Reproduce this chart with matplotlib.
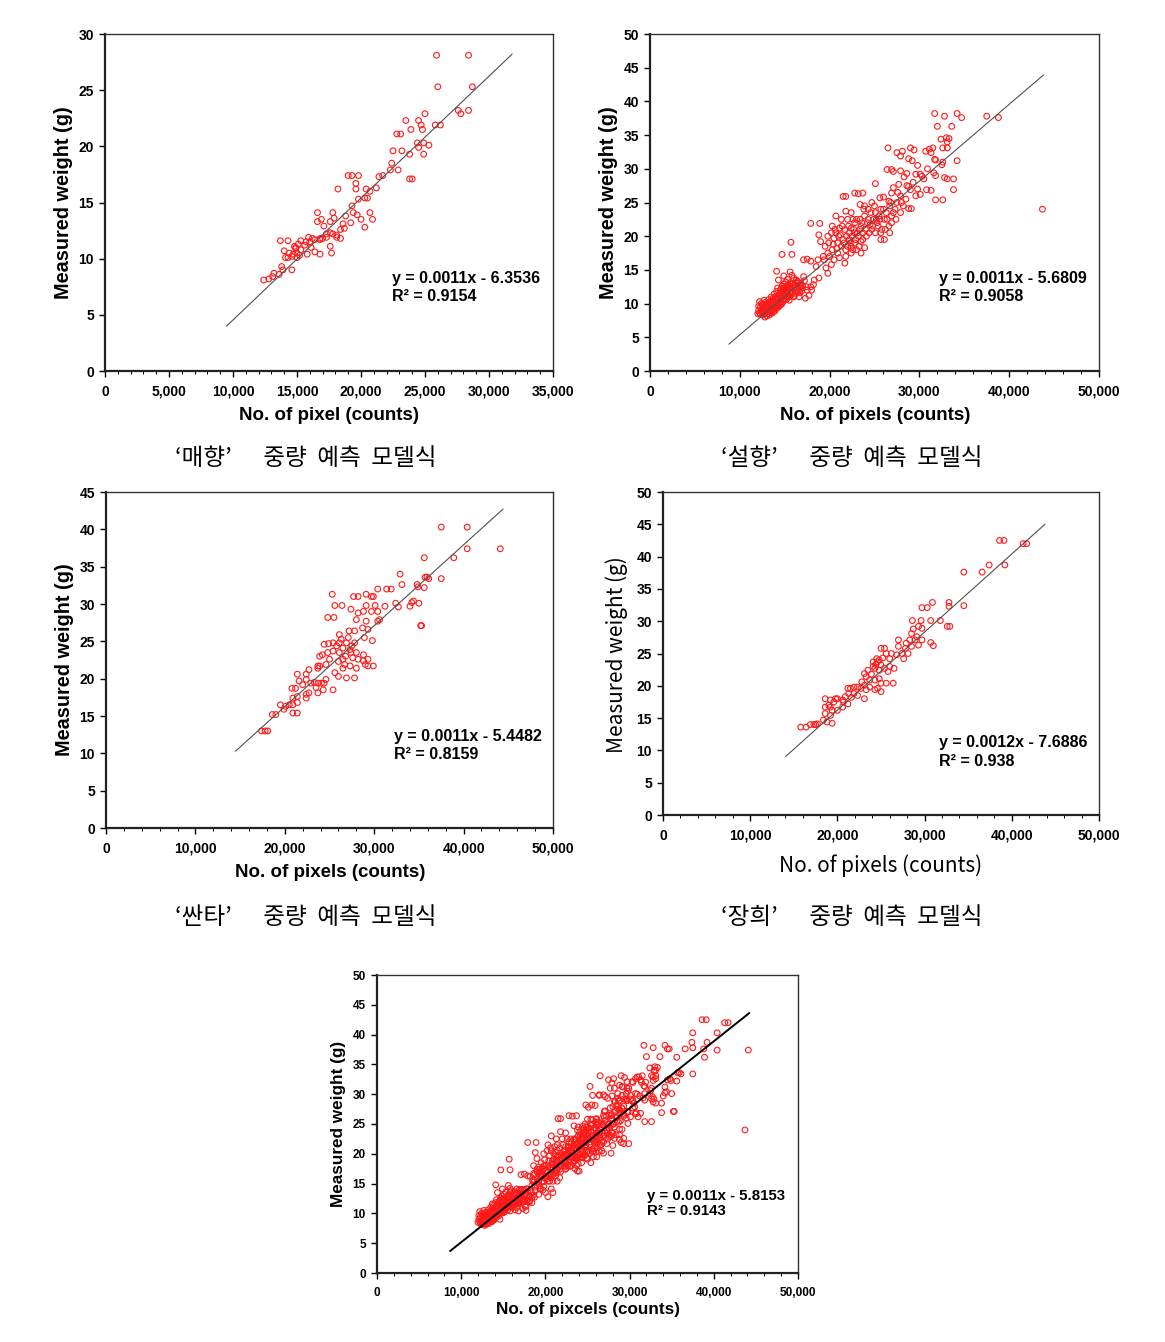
import numpy as np
import matplotlib
matplotlib.use("Agg")
import matplotlib.pyplot as plt
from matplotlib.ticker import FuncFormatter, MultipleLocator

plt.rcParams["font.family"] = ["Liberation Sans", "DejaVu Sans"]
KR = ["Noto Sans CJK KR", "DejaVu Sans"]

W, H = 1165, 1342

# points: (pixel count in thousands, weight g)
MAEHYANG = [
    (25.9, 28.1), (28.4, 28.1), (26.0, 25.3), (28.7, 25.3), (27.6, 23.2), (28.4, 23.2), (27.8, 22.9),
    (25.0, 22.9), (25.8, 21.9), (26.2, 21.9), (23.5, 22.3), (24.5, 22.3), (24.7, 21.9), (23.9, 21.5),
    (24.8, 21.5), (22.8, 21.1), (23.1, 21.1), (24.4, 20.3), (24.5, 19.9), (24.9, 20.3), (25.3, 20.1),
    (24.9, 19.3), (23.8, 19.3), (23.2, 19.6), (22.5, 19.6), (24.0, 17.1), (23.8, 17.1), (22.9, 17.9),
    (22.3, 17.9), (22.4, 18.5), (21.4, 17.3), (21.7, 17.4), (21.2, 16.3), (20.7, 16.0), (20.5, 15.4),
    (20.3, 15.4), (19.8, 15.3), (19.3, 14.7), (20.4, 16.2), (19.8, 17.4), (19.3, 17.4), (19.0, 17.4),
    (19.6, 16.7), (19.6, 16.2), (18.2, 16.2), (19.4, 14.1), (19.7, 13.9), (20.7, 14.1), (20.9, 13.5),
    (20.0, 13.5), (20.3, 12.8), (19.2, 13.2), (18.8, 13.8), (18.6, 13.1), (18.7, 12.7), (18.4, 12.6),
    (17.8, 14.1), (17.6, 13.3), (17.9, 13.6), (17.1, 12.9), (16.6, 14.1), (16.6, 13.3), (16.9, 13.5),
    (17.6, 12.3), (18.1, 11.9), (18.4, 11.8), (17.3, 11.9), (16.8, 11.8), (16.4, 11.7), (16.0, 11.5),
    (15.7, 11.5), (15.9, 11.9), (15.3, 11.6), (16.1, 11.0), (15.6, 11.2), (15.3, 10.8), (14.7, 10.4),
    (15.2, 10.3), (14.3, 10.1), (14.4, 10.5), (14.9, 11.0), (14.8, 11.1), (14.3, 11.6), (13.7, 11.6),
    (14.0, 10.7), (14.1, 10.1), (15.0, 10.1), (15.8, 10.4), (16.4, 10.6), (16.8, 10.4), (17.7, 10.5),
    (17.6, 11.1), (13.8, 9.3), (13.9, 9.0), (14.6, 9.0), (13.6, 8.6), (13.2, 8.7), (13.1, 8.4),
    (12.8, 8.2), (12.4, 8.1), (14.6, 10.2), (15.0, 10.5), (14.9, 10.9), (15.1, 11.3), (16.2, 11.8),
    (17.0, 11.8), (17.3, 12.2), (17.8, 12.2), (18.1, 12.1), (16.8, 11.7),
]

SEOLHYANG = [
    (31.7, 38.2), (32.8, 37.8), (34.2, 38.2), (34.7, 37.6), (37.5, 37.8), (38.8, 37.6), (32.0, 36.3),
    (33.6, 36.3), (34.2, 31.2), (33.8, 26.9), (43.7, 24.0),
    (32.4, 34.4), (33.0, 34.6), (33.3, 34.5), (33.1, 34.0), (32.6, 33.1), (33.1, 33.1), (31.1, 32.9),
    (31.5, 33.1), (31.3, 32.4), (30.7, 32.6), (31.7, 31.4), (31.8, 31.3), (32.6, 31.0), (32.5, 30.6),
    (31.6, 29.4), (31.8, 29.0), (32.8, 28.7), (33.1, 28.5), (33.8, 28.5), (31.3, 26.8), (30.8, 26.9),
    (31.8, 25.4), (32.6, 25.4), (30.1, 29.2), (30.3, 28.9), (29.6, 29.2), (28.6, 29.3), (29.2, 31.2),
    (29.4, 32.8), (29.0, 33.1), (28.1, 32.6), (27.9, 31.9), (27.5, 32.4), (28.8, 31.5), (26.5, 33.1),
    (26.9, 29.9), (26.4, 29.9), (27.1, 29.6), (27.9, 29.7), (28.8, 27.4), (29.0, 26.9), (29.6, 26.0),
    (30.1, 26.2), (28.8, 24.1), (29.1, 24.1), (28.0, 25.0), (27.7, 27.7), (25.1, 27.8),
    (21.5, 25.9), (21.8, 25.9), (22.8, 26.4), (23.7, 26.4), (23.2, 26.3), (20.7, 23.0), (21.8, 23.7),
    (23.4, 24.7), (23.9, 24.5), (24.7, 25.0), (25.6, 25.7), (26.0, 25.8), (26.6, 25.2), (26.9, 26.4),
    (27.1, 27.2),
    (18.8, 20.2), (19.0, 19.2), (19.8, 20.0), (20.2, 20.5), (20.5, 19.7), (20.9, 19.0), (21.2, 20.2),
    (21.5, 19.5), (21.7, 21.0), (22.2, 20.5), (22.4, 21.2), (22.8, 22.0), (23.4, 22.5), (23.5, 21.5),
    (23.9, 23.0), (24.3, 22.5), (24.5, 21.7), (24.9, 22.5), (25.1, 23.5), (25.4, 21.5), (25.7, 20.5),
    (26.1, 22.5), (26.6, 21.5), (26.9, 23.0), (27.3, 24.0), (26.7, 20.5), (25.7, 19.5), (25.1, 20.5),
    (24.1, 20.0), (23.5, 19.2), (23.0, 18.0), (22.4, 17.5), (21.8, 17.0), (21.7, 16.0), (20.9, 17.5),
    (20.3, 18.0), (19.8, 17.5), (19.4, 16.5), (20.2, 15.8), (20.5, 16.5), (22.4, 18.5), (23.2, 20.0),
    (23.7, 20.5), (22.8, 20.5), (22.2, 19.5), (24.7, 21.0), (25.2, 22.5), (24.3, 24.0), (22.6, 22.5),
    (22.4, 23.5), (22.0, 22.5), (21.3, 22.5), (21.1, 21.2), (20.3, 21.5), (20.7, 20.5), (21.3, 18.5),
    (21.8, 18.0), (22.8, 19.0), (23.5, 17.5), (23.9, 18.3), (25.7, 24.0), (26.3, 23.5), (26.7, 24.5),
    (26.9, 22.0), (27.5, 25.0), (27.9, 26.0), (27.9, 23.5), (26.1, 19.5), (25.6, 22.5),
    (19.5, 18.5), (19.9, 19.0), (20.0, 17.0), (20.4, 18.8), (20.6, 21.0), (20.8, 18.2), (21.0, 20.0),
    (21.1, 16.8), (21.4, 21.5), (21.6, 19.0), (21.9, 20.0), (22.0, 18.5), (22.1, 21.5), (22.3, 19.0),
    (22.5, 20.0), (22.6, 18.0), (22.7, 21.0), (22.9, 19.5), (23.0, 22.5), (23.1, 20.5), (23.3, 18.5),
    (23.4, 21.0), (23.6, 22.0), (23.7, 19.5), (23.8, 24.0), (24.0, 21.0), (24.2, 22.0), (24.4, 20.5),
    (24.6, 23.5), (24.8, 21.5), (25.0, 24.5), (25.3, 22.0), (25.5, 23.0), (25.8, 21.0), (26.0, 24.0),
    (26.2, 21.0), (26.4, 22.5), (26.8, 25.0), (27.1, 23.5), (27.4, 22.5), (27.6, 26.5), (28.2, 24.5),
    (28.5, 25.5), (28.6, 27.5), (29.3, 28.0), (29.8, 27.0), (30.5, 28.5), (30.9, 30.0), (29.8, 30.5),
    (28.3, 28.8),
    (17.9, 21.9), (18.9, 21.9), (15.8, 17.3), (14.7, 17.3), (15.7, 19.1), (17.5, 16.6), (17.1, 16.5),
    (17.9, 16.3), (18.5, 15.5), (18.7, 16.5), (19.3, 17.0), (19.6, 15.3), (19.8, 14.5), (18.8, 13.8),
    (18.3, 13.5), (17.9, 12.5), (17.4, 12.5), (17.1, 14.0), (16.4, 13.0), (16.9, 12.3), (17.3, 10.8),
    (16.7, 11.6), (14.1, 14.8), (15.6, 14.7), (14.9, 14.1), (14.3, 13.5),
    (12.0, 8.5), (12.1, 9.0), (12.2, 10.3), (12.3, 9.5), (12.4, 8.8), (12.5, 9.8), (12.6, 8.3),
    (12.6, 9.2), (12.7, 10.5), (12.8, 8.0), (12.8, 9.6), (12.9, 8.7), (13.0, 9.2), (13.0, 10.0),
    (13.1, 8.5), (13.1, 9.8), (13.2, 9.0), (13.2, 10.6), (13.3, 8.3), (13.3, 9.5), (13.4, 8.8),
    (13.4, 10.2), (13.5, 9.2), (13.5, 11.0), (13.6, 9.8), (13.6, 8.6), (13.7, 10.4), (13.7, 9.1),
    (13.8, 9.6), (13.8, 11.4), (13.9, 10.0), (13.9, 8.9), (14.0, 10.5), (14.0, 9.4), (14.1, 11.8),
    (14.1, 9.8), (14.2, 10.2), (14.2, 12.3), (14.3, 9.5), (14.3, 10.8), (14.4, 11.2), (14.4, 10.0),
    (14.5, 10.6), (14.5, 12.0), (14.6, 9.9), (14.6, 11.4), (14.7, 10.9), (14.7, 12.6), (14.8, 10.3),
    (14.8, 11.7), (14.9, 11.1), (14.9, 12.9), (15.0, 10.6), (15.0, 12.1), (15.1, 11.5), (15.1, 13.2),
    (15.2, 10.9), (15.2, 12.4), (15.3, 11.8), (15.3, 13.6), (15.4, 11.2), (15.4, 12.8), (15.5, 12.2),
    (15.5, 10.5), (15.6, 13.1), (15.6, 11.6), (15.7, 12.5), (15.8, 14.2), (15.8, 11.9), (15.9, 13.0),
    (16.0, 12.3), (16.0, 13.8), (16.1, 11.2), (16.2, 12.8), (16.3, 13.5), (16.4, 12.0), (16.5, 13.2),
    (16.6, 11.0), (16.7, 12.6), (13.0, 9.5), (12.9, 10.2), (13.5, 10.0), (14.0, 10.0), (12.5, 9.0),
    (13.7, 9.5), (14.4, 10.5), (14.8, 11.0), (15.2, 11.5), (12.2, 8.6), (12.7, 8.9),
    (12.1, 9.6), (12.3, 8.4), (12.4, 10.0), (12.5, 8.6), (12.6, 9.9), (12.7, 8.5), (12.8, 9.1),
    (12.9, 9.4), (13.0, 8.2), (13.0, 8.8), (13.1, 9.2), (13.2, 9.6), (13.3, 10.1), (13.3, 8.9),
    (13.4, 9.4), (13.5, 8.6), (13.5, 10.4), (13.6, 9.1), (13.7, 10.8), (13.8, 8.9), (13.8, 10.2),
    (13.9, 9.4), (14.0, 11.0), (14.1, 9.3), (14.1, 10.6), (14.2, 9.7), (14.3, 11.3), (14.4, 9.6),
    (14.5, 10.2), (14.5, 11.0), (14.6, 12.2), (14.7, 10.0), (14.7, 11.6), (14.8, 12.3), (14.9, 10.5),
    (15.0, 11.2), (15.1, 12.6), (15.2, 10.6), (15.3, 11.3), (15.4, 12.1), (15.5, 11.0), (15.6, 12.5),
    (15.7, 11.3), (15.8, 12.9), (15.9, 11.6), (16.0, 11.0), (16.1, 12.8), (16.2, 11.5), (16.3, 12.4),
    (16.4, 13.3), (16.5, 11.8), (16.6, 12.3), (16.8, 13.0), (16.9, 11.9), (17.0, 12.6), (17.2, 13.4),
    (17.5, 12.0), (17.7, 11.2), (18.0, 12.0), (18.2, 12.8),
]

SANTA = [
    (37.5, 40.3), (40.4, 40.3), (40.4, 37.4), (44.1, 37.4), (35.6, 36.2), (38.9, 36.2), (37.5, 33.4),
    (35.7, 33.6), (35.9, 33.6), (36.1, 33.4), (32.9, 34.0), (33.1, 32.6), (34.8, 32.6), (35.6, 32.2),
    (34.9, 32.3), (35.3, 27.1), (35.2, 27.1), (34.0, 29.7), (34.2, 30.2), (34.4, 30.4), (35.0, 30.1),
    (32.7, 29.6), (32.4, 30.1), (31.4, 32.0), (31.9, 32.0), (30.4, 32.0), (31.2, 29.7), (30.6, 27.9),
    (30.4, 27.7),
    (25.3, 31.3), (27.7, 31.0), (28.2, 31.0), (29.1, 31.3), (29.7, 31.0), (29.9, 31.0), (25.6, 29.8),
    (26.4, 29.8), (29.1, 29.8), (30.1, 29.8), (27.4, 29.3), (28.2, 28.8), (28.8, 29.0), (29.7, 29.0),
    (30.4, 29.0), (24.8, 28.2), (25.5, 28.2), (28.0, 27.9), (29.1, 27.7), (28.7, 26.8), (29.3, 26.6),
    (27.2, 26.4), (27.8, 26.4), (29.8, 25.1), (28.9, 25.5), (26.1, 25.9), (26.3, 25.3), (27.1, 25.5),
    (27.8, 24.8), (26.9, 24.8), (27.5, 24.4), (24.9, 24.7), (25.8, 24.4), (26.5, 24.1), (27.3, 23.9),
    (28.0, 23.5), (28.8, 23.2), (28.2, 22.6), (27.6, 22.8), (26.8, 23.0), (26.1, 23.5), (25.4, 23.7),
    (24.8, 23.5), (24.2, 23.2), (23.9, 23.0), (25.0, 22.6), (26.0, 22.3), (26.7, 21.9), (26.5, 21.4),
    (27.3, 21.7), (28.0, 21.4), (29.3, 21.7), (28.8, 22.4), (29.3, 22.6), (29.0, 21.9), (26.9, 20.1),
    (27.8, 20.1), (26.0, 20.3), (25.6, 20.8), (24.6, 21.9), (23.9, 21.7), (23.7, 21.4), (23.7, 21.7),
    (22.7, 21.2), (22.4, 20.6), (21.4, 20.6), (22.4, 19.9), (21.6, 19.7), (22.0, 19.2), (22.9, 19.4),
    (23.3, 19.5), (23.7, 19.4), (24.1, 19.4), (24.4, 19.4), (24.6, 19.9), (23.5, 18.8), (24.3, 18.5),
    (25.4, 18.5), (23.7, 18.1), (22.7, 18.1), (22.4, 17.4), (21.4, 17.6), (22.4, 17.9), (20.8, 18.7),
    (21.2, 18.7), (21.4, 16.8), (20.9, 17.4), (20.9, 16.5), (20.5, 16.5), (20.1, 16.3), (19.9, 15.9),
    (19.5, 16.5), (20.9, 15.4), (21.4, 15.4), (18.6, 15.2), (19.0, 15.2), (17.4, 13.0), (17.8, 13.0),
    (18.1, 13.0), (24.4, 24.6), (25.4, 24.8), (26.1, 24.8), (27.4, 23.5), (26.5, 22.6), (29.9, 21.7),
]

JANGHEE = [
    (38.6, 42.5), (39.1, 42.5), (41.3, 42.0), (41.7, 42.0), (39.2, 38.7), (37.4, 38.7), (36.6, 37.6),
    (34.5, 37.6), (34.5, 32.4), (32.8, 32.9), (32.8, 32.3), (32.6, 29.2), (32.9, 29.2), (31.8, 30.1),
    (30.9, 32.9), (30.3, 32.1), (29.7, 32.1), (30.7, 30.1), (30.7, 26.7), (31.0, 26.2), (28.6, 30.1),
    (29.6, 30.1), (29.3, 29.2), (28.7, 28.8), (29.7, 28.9), (28.5, 28.1), (29.1, 27.6), (28.9, 27.1),
    (28.3, 27.1), (27.9, 26.6), (28.5, 26.1), (29.3, 26.3), (29.7, 27.1), (27.8, 25.8), (27.0, 27.1),
    (27.0, 26.1), (27.4, 25.0), (28.1, 25.0), (27.6, 24.2), (26.8, 24.8), (26.2, 25.0), (26.0, 24.2),
    (25.4, 25.8), (25.6, 25.0), (26.5, 22.7), (26.4, 20.4), (25.6, 20.4), (25.0, 25.8), (24.6, 23.7),
    (24.8, 24.0), (24.5, 24.2), (24.1, 23.7), (25.0, 23.2), (25.4, 22.7), (25.8, 22.2), (26.0, 23.0),
    (24.8, 22.4), (24.3, 22.7), (24.1, 23.0), (23.5, 22.4), (23.1, 21.9), (23.3, 21.4), (23.7, 20.9),
    (24.3, 20.9), (24.8, 21.1), (25.0, 20.4), (24.6, 19.6), (25.0, 19.1), (24.3, 19.4), (23.7, 19.8),
    (23.1, 20.1), (23.3, 19.4), (22.7, 19.6), (23.1, 18.0), (22.3, 18.5), (21.9, 18.8), (21.5, 19.6),
    (21.2, 19.6), (21.3, 18.8), (20.9, 18.3), (20.6, 17.8), (20.7, 17.5), (20.0, 18.0), (19.6, 17.5),
    (20.0, 16.2), (19.4, 16.2), (19.2, 16.7), (19.0, 17.0), (18.6, 16.7), (18.6, 15.7), (19.2, 15.4),
    (18.4, 14.7), (18.8, 14.4), (19.4, 14.2), (18.6, 18.0), (19.8, 18.0), (19.2, 17.8), (20.6, 16.7),
    (21.2, 17.2), (21.9, 19.8), (22.3, 19.8), (17.7, 14.1), (17.3, 14.0), (16.9, 14.0), (15.8, 13.6),
    (16.4, 13.6), (17.5, 14.0), (22.8, 20.6), (21.6, 18.2), (23.9, 21.8), (24.4, 23.3), (25.2, 24.3),
]

CAPTIONS = ["‘매향’      중량  예측  모델식", "‘설향’      중량  예측  모델식",
            "‘싼타’      중량  예측  모델식", "‘장희’      중량  예측  모델식"]
EQUATIONS = ["y = 0.0011x - 6.3536", "y = 0.0011x - 5.6809", "y = 0.0011x - 5.4482",
             "y = 0.0012x - 7.6886", "y = 0.0011x - 5.8153"]
R2_TEXT = ["R² = 0.9154", "R² = 0.9058", "R² = 0.8159", "R² = 0.938", "R² = 0.9143"]
XLABELS = ["No. of pixel (counts)", "No. of pixels (counts)", "No. of pixels (counts)",
           "No. of pixels (counts)", "No. of pixcels (counts)"]
# trend line end points: (x in thousands, y)
TRENDS = [[(9.5, 4.0), (31.8, 28.2)], [(8.8, 4.0), (43.8, 43.9)], [(14.5, 10.3), (44.4, 42.7)],
          [(14.1, 9.1), (43.8, 45.0)], [(8.7, 3.7), (44.2, 43.6)]]
XMAX = [35000, 50000, 50000, 50000, 50000]
YMAX = [30, 50, 45, 50, 50]

ALL = MAEHYANG + SEOLHYANG + SANTA + JANGHEE
POINTS = [MAEHYANG, SEOLHYANG, SANTA, JANGHEE, ALL]

# layout in pixels: (left, top, right, bottom)
BOXES = [(105, 34, 553, 371), (650, 34, 1099, 371), (106, 492, 553, 828),
         (663, 492, 1099, 815), (377, 975, 798, 1273)]

fig = plt.figure(figsize=(W / 100, H / 100), dpi=100)
fig.patch.set_facecolor("white")


def comma(v, _):
    return f"{int(v):,}"


for i, (l, t, r, b) in enumerate(BOXES):
    ax = fig.add_axes([l / W, 1 - b / H, (r - l) / W, (b - t) / H])
    pts = np.array(POINTS[i])
    ax.scatter(pts[:, 0] * 1000, pts[:, 1], s=17, facecolors="none",
               edgecolors="#ff1a1a", linewidths=0.8, zorder=3)
    tr = np.array(TRENDS[i])
    ax.plot(tr[:, 0] * 1000, tr[:, 1], color="black" if i == 4 else "#505050",
            lw=1.4 if i == 4 else 0.8, zorder=4)

    ax.set_xlim(0, XMAX[i])
    ax.set_ylim(0, YMAX[i])
    ax.xaxis.set_major_locator(MultipleLocator(5000 if i == 0 else 10000))
    ax.xaxis.set_minor_locator(MultipleLocator(1000 if i == 0 else 2000))
    ax.yaxis.set_major_locator(MultipleLocator(5))
    ax.xaxis.set_major_formatter(FuncFormatter(comma))

    small = i == 4
    ax.tick_params(axis="both", which="major", direction="out", length=4, width=1,
                   labelsize=8.5 if small else 10, colors="black")
    ax.tick_params(axis="x", which="minor", direction="out", length=2.5, width=0.7)
    ax.tick_params(axis="y", pad=4)
    ax.tick_params(axis="x", pad=6)
    for lab in ax.get_xticklabels() + ax.get_yticklabels():
        lab.set_fontweight("bold")

    for side in ["left", "bottom"]:
        ax.spines[side].set_linewidth(1.6)
        ax.spines[side].set_color("#222222")
    for side in ["top", "right"]:
        ax.spines[side].set_linewidth(1.0)
        ax.spines[side].set_color("#333333")

    if i == 3:
        ax.set_xlabel(XLABELS[i], family=KR, fontsize=15, fontweight="medium", va="center")
        ax.set_ylabel("Measured weight (g)", family=KR, fontsize=15, fontweight="medium", va="center")
        ax.xaxis.set_label_coords(0.498, -0.158)
        ax.yaxis.set_label_coords(-0.106, 0.498)
    elif small:
        ax.set_xlabel(XLABELS[i], fontsize=12.3, fontweight="bold", va="center")
        ax.set_ylabel("Measured weight (g)", fontsize=12.3, fontweight="bold", va="center")
        ax.xaxis.set_label_coords(0.501, -0.124)
        ax.yaxis.set_label_coords(-0.091, 0.5)
    else:
        ax.set_xlabel(XLABELS[i], fontsize=13.5, fontweight="bold", va="center")
        ax.set_ylabel("Measured weight (g)", fontsize=14.3, fontweight="bold", va="center")
        ax.xaxis.set_label_coords(0.501, -0.131)
        ax.yaxis.set_label_coords(-0.092, 0.5)

    eq_pos = [(0.640, 0.273), (0.644, 0.273), (0.644, 0.271), (0.633, 0.223), (0.641, 0.258)][i]
    gap = [0.053, 0.053, 0.051, 0.056, 0.05][i]
    efs = 10.8 if small else 11.5
    ax.text(eq_pos[0], eq_pos[1], EQUATIONS[i], transform=ax.transAxes,
            fontsize=efs, fontweight="bold", ha="left", va="center")
    ax.text(eq_pos[0], eq_pos[1] - gap, R2_TEXT[i], transform=ax.transAxes,
            fontsize=efs, fontweight="bold", ha="left", va="center")

for cap, (cx, cy) in zip(CAPTIONS, [(306, 459), (852, 459), (306, 918), (852, 918)]):
    fig.text(cx / W, 1 - cy / H, cap, family=KR, fontsize=17, ha="center", va="center")

fig.savefig("out.png", dpi=100, facecolor="white")
